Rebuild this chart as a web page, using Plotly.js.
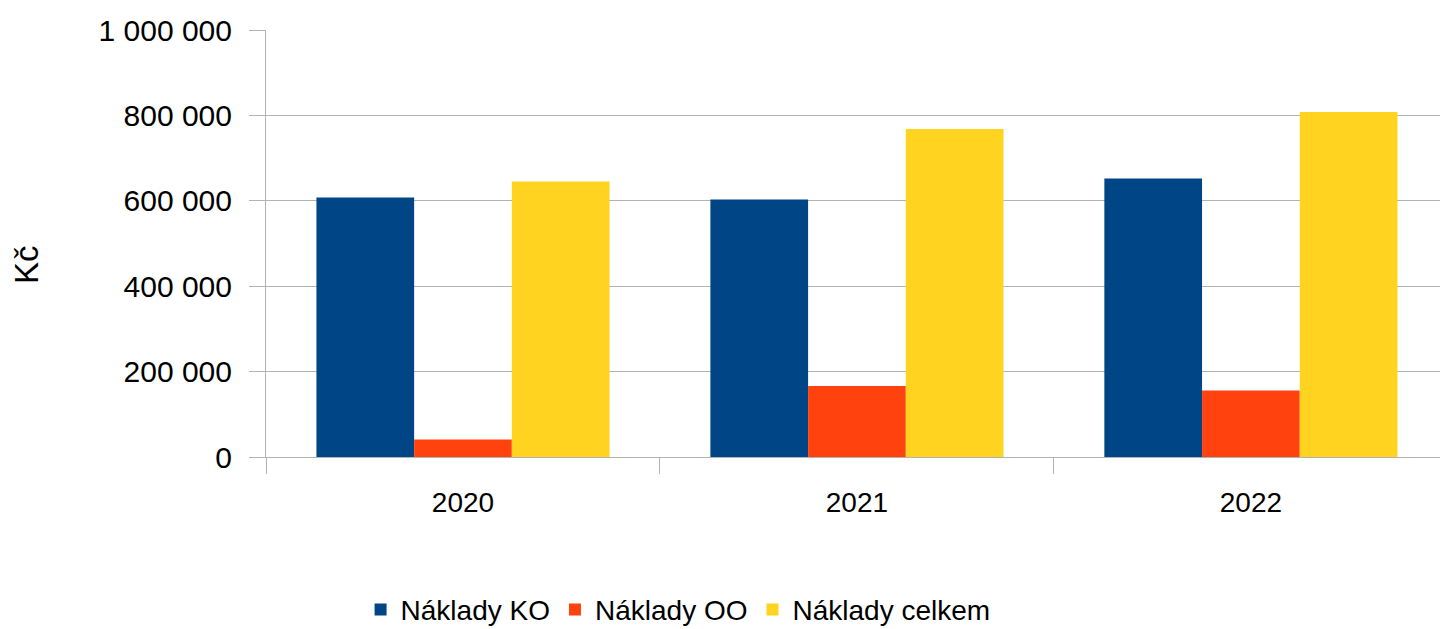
<!DOCTYPE html>
<html>
<head>
<meta charset="utf-8">
<script src="https://cdn.plot.ly/plotly-3.0.1.min.js"></script>
<style>html,body{margin:0;padding:0;background:#fff;}#chart{width:1440px;height:629px;}</style>
</head>
<body>
<div id="chart"></div>
<script>
const years = ['2020', '2021', '2022'];
const seriesNames = ['Náklady KO', 'Náklady OO', 'Náklady celkem'];
const nakladyKO = [608000, 603000, 652000];
const nakladyOO = [41000, 166000, 156000];
const nakladyCelkem = [645000, 768000, 808000];
const yTicks = [0, 200000, 400000, 600000, 800000, 1000000];
const yAxisTitle = 'Kč';
const colors = ['#004586', '#ff420e', '#ffd320'];

const values = [nakladyKO, nakladyOO, nakladyCelkem];
const traces = values.map((v, i) => ({
  type: 'bar',
  name: seriesNames[i],
  x: years,
  y: v,
  marker: {color: colors[i], line: {width: 0}},
  hoverinfo: 'x+y+name'
}));

const gridColor = '#b3b3b3';
const layout = {
  width: 1440,
  height: 629,
  paper_bgcolor: '#ffffff',
  plot_bgcolor: '#ffffff',
  separators: ', ',
  font: {family: '"Liberation Sans", Arial, sans-serif', color: '#000000'},
  margin: {l: 266, r: 0, t: 30, b: 172, autoexpand: false},
  barmode: 'group',
  bargap: 0.256,
  bargroupgap: 0,
  showlegend: true,
  legend: {
    orientation: 'h',
    x: 0.351, xanchor: 'center',
    y: -0.358, yanchor: 'middle',
    font: {size: 28, color: '#000000'},
    itemwidth: 30,
    tracegroupgap: 0,
    bgcolor: 'rgba(0,0,0,0)'
  },
  xaxis: {
    type: 'category',
    range: [-0.5, 2.48],
    tickson: 'boundaries',
    ticks: 'outside',
    ticklen: 16,
    tickcolor: gridColor,
    tickwidth: 1,
    showgrid: false,
    showline: true,
    linecolor: gridColor,
    linewidth: 1,
    tickfont: {size: 28, color: '#000000'},
    ticklabelstandoff: 20,
    fixedrange: true
  },
  yaxis: {
    range: [0, 1000000],
    tickvals: yTicks,
    tickformat: ',d',
    ticks: 'outside',
    ticklen: 16,
    tickcolor: gridColor,
    tickwidth: 1,
    showgrid: true,
    gridcolor: gridColor,
    gridwidth: 1,
    zeroline: true,
    zerolinecolor: gridColor,
    zerolinewidth: 1,
    showline: true,
    linecolor: gridColor,
    linewidth: 1,
    tickfont: {size: 30, color: '#000000'},
    ticklabelstandoff: 11,
    automargin: false,
    fixedrange: true
  },
  annotations: [{
    text: yAxisTitle,
    xref: 'paper', yref: 'paper',
    x: (26 - 266) / 1174, y: (457 - 265) / 427,
    xanchor: 'center', yanchor: 'middle',
    textangle: -90,
    showarrow: false,
    font: {size: 33, color: '#000000'}
  }]
};

Plotly.newPlot('chart', traces, layout, {displayModeBar: false, staticPlot: true});
</script>
</body>
</html>
